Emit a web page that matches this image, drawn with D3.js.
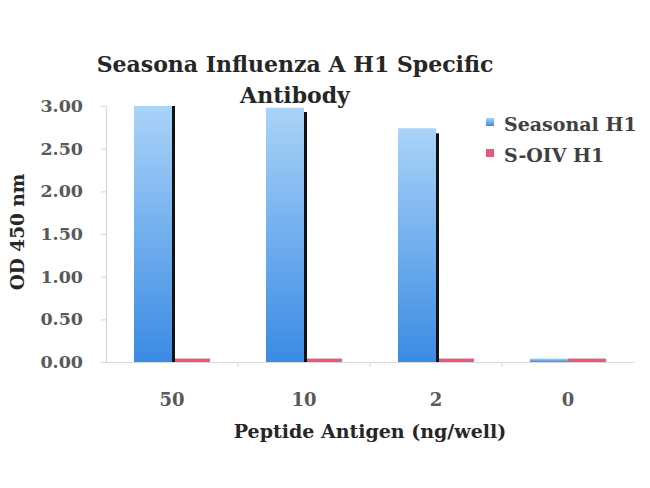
<!DOCTYPE html>
<html><head><meta charset="utf-8">
<script src="https://cdn.jsdelivr.net/npm/d3@7"></script>
<style>body{margin:0;background:#fff}svg{display:block}</style>
</head><body>
<svg id="c" width="650" height="488"></svg>
<script>
const categories = ["50", "10", "2", "0"];
const seriesNames = ["Seasonal H1", "S-OIV H1"];
const seasonalH1 = [3.00, 2.98, 2.74, 0.04];
const soivH1 = [0.04, 0.04, 0.04, 0.04];
const seasonalEdge = [3.00, 2.93, 2.68, null];
const yTicks = [0, 0.5, 1.0, 1.5, 2.0, 2.5, 3.0];
const titleLines = ["Seasona Influenza A H1 Specific", "Antibody"];
const yTitle = "OD 450 nm";
const xTitle = "Peptide Antigen (ng/well)";

const svg = d3.select("#c");
const M = {l:106, r:634, t:106, b:362};
const serif = "'DejaVu Serif', serif";

const defs = svg.append("defs");
const g1 = defs.append("linearGradient").attr("id","blueG").attr("x1",0).attr("y1",0).attr("x2",0).attr("y2",1);
g1.append("stop").attr("offset","0%").attr("stop-color","#aad3f8");
g1.append("stop").attr("offset","100%").attr("stop-color","#3a8be3");

const x0 = d3.scaleBand().domain(categories).range([M.l, M.r]).paddingInner(0).paddingOuter(0);
const groupW = x0.bandwidth() * 0.576;
const x1 = d3.scaleBand().domain(seriesNames).range([0, groupW]).padding(0);
const y = d3.scaleLinear().domain([0, 3]).range([M.b, M.t]);

// Y axis
const yAxis = d3.axisLeft(y).tickValues(yTicks).tickFormat(d3.format(".2f")).tickSize(5).tickPadding(18);
const ya = svg.append("g").attr("transform",`translate(${M.l},0)`).call(yAxis);
ya.select(".domain").attr("stroke","#d9d9d9").attr("stroke-width",1.2);
ya.selectAll(".tick line").attr("stroke","#d9d9d9").attr("stroke-width",1.2);
ya.selectAll(".tick text").attr("font-family",serif).attr("font-size",17.5).attr("font-weight","bold").attr("fill","#595959");

// X axis
const xAxis = d3.axisBottom(x0).tickSize(0).tickPadding(31);
const xa = svg.append("g").attr("transform",`translate(0,${M.b})`).call(xAxis);
xa.select(".domain").attr("stroke","#d9d9d9").attr("stroke-width",1.2);
xa.selectAll(".tick text").attr("font-family",serif).attr("font-size",18).attr("font-weight","bold").attr("fill","#595959");
// category boundary ticks
xa.selectAll(".sep").data(categories.slice(1)).enter().append("line")
  .attr("x1",d=>x0(d)).attr("x2",d=>x0(d)).attr("y1",0).attr("y2",5)
  .attr("stroke","#d9d9d9").attr("stroke-width",1.2);

// Bars
const off = (x0.bandwidth() - groupW) / 2;
const data = categories.map((c,i)=>({c, vals:[
  {s:seriesNames[0], v:seasonalH1[i], edge:seasonalEdge[i]},
  {s:seriesNames[1], v:soivH1[i]}
]}));
const grp = svg.append("g").selectAll("g").data(data).enter().append("g")
  .attr("transform",d=>`translate(${x0(d.c)+off},0)`);
grp.selectAll("rect").data(d=>d.vals).enter().append("rect")
  .attr("x",d=>x1(d.s)).attr("width",x1.bandwidth())
  .attr("y",d=>y(d.v)).attr("height",d=>y(0)-y(d.v))
  .attr("fill",d=>d.s===seriesNames[0]?"url(#blueG)":"#e9587a");
grp.selectAll("line.edge").data(d=>d.vals.filter(v=>v.edge!=null)).enter().append("line")
  .attr("class","edge")
  .attr("x1",d=>x1(d.s)+x1.bandwidth()+1.5).attr("x2",d=>x1(d.s)+x1.bandwidth()+1.5)
  .attr("y1",d=>y(d.edge)).attr("y2",y(0))
  .attr("stroke","#111").attr("stroke-width",3);

// Title
svg.append("text").attr("x",295).attr("y",72).attr("text-anchor","middle")
  .attr("font-family",serif).attr("font-weight","bold").attr("font-size",22).attr("fill","#262626")
  .selectAll("tspan").data(titleLines).enter().append("tspan")
  .attr("x",295).attr("dy",(d,i)=>i===0?0:31).text(d=>d);

// Axis titles
svg.append("text").attr("transform","translate(24,232) rotate(-90)").attr("text-anchor","middle")
  .attr("font-family",serif).attr("font-weight","bold").attr("font-size",18.5).attr("fill","#262626").text(yTitle);
svg.append("text").attr("x",370).attr("y",438).attr("text-anchor","middle")
  .attr("font-family",serif).attr("font-weight","bold").attr("font-size",19).attr("fill","#262626").text(xTitle);

// Legend
const lg = svg.append("g").selectAll("g").data(seriesNames).enter().append("g")
  .attr("transform",(d,i)=>`translate(486,${118+i*31})`);
lg.append("rect").attr("width",8).attr("height",8)
  .attr("fill",(d,i)=>i===0?"url(#blueG)":"#e9587a");
lg.append("text").attr("x",18).attr("y",13).attr("font-family",serif).attr("font-size",19)
  .attr("font-weight","bold").attr("fill","#404040").text(d=>d);
</script>
</body></html>
